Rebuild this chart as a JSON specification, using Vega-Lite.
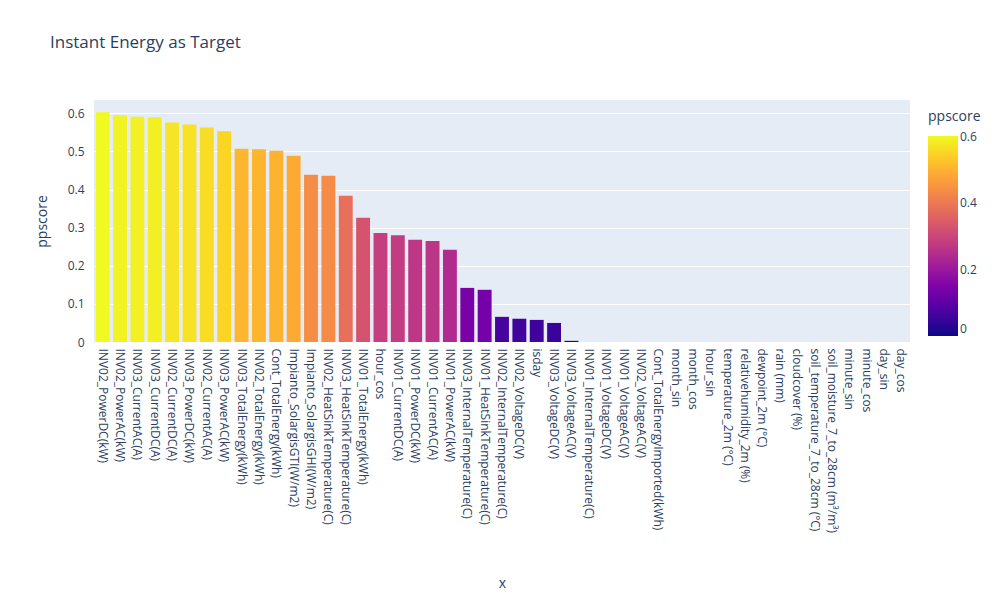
{
"$schema":"https://vega.github.io/schema/vega-lite/v6.json",
"width":816,"height":242,"autosize":{"type":"none"},
"padding":{"left":94,"top":100,"right":98,"bottom":258},
"background":"white",
"title":{"text":"Instant Energy as Target","anchor":"start","frame":"group","dx":-44,"offset":48,"fontSize":17,"font":"Open Sans","fontWeight":"normal","color":"#2a3f5f"},
"config":{"view":{"fill":"#E5ECF6","stroke":null},"font":"Open Sans",
"axis":{"labelFont":"Open Sans","titleFont":"Open Sans","labelColor":"#2a3f5f","titleColor":"#2a3f5f","labelFontSize":12,"titleFontSize":14,"titleFontWeight":"normal","domain":false,"ticks":false,"gridColor":"white","gridWidth":1}},
"data":{"values":[
{"x":"INV02_PowerDC(kW)","ppscore":0.603},
{"x":"INV02_PowerAC(kW)","ppscore":0.595},
{"x":"INV03_CurrentAC(A)","ppscore":0.591},
{"x":"INV03_CurrentDC(A)","ppscore":0.590},
{"x":"INV02_CurrentDC(A)","ppscore":0.576},
{"x":"INV03_PowerDC(kW)","ppscore":0.571},
{"x":"INV02_CurrentAC(A)","ppscore":0.563},
{"x":"INV03_PowerAC(kW)","ppscore":0.553},
{"x":"INV03_TotalEnergy(kWh)","ppscore":0.507},
{"x":"INV02_TotalEnergy(kWh)","ppscore":0.506},
{"x":"Cont_TotalEnergy(kWh)","ppscore":0.502},
{"x":"Impianto_SolargisGTI(W/m2)","ppscore":0.489},
{"x":"Impianto_SolargisGHI(W/m2)","ppscore":0.439},
{"x":"INV02_HeatSinkTemperature(C)","ppscore":0.436},
{"x":"INV03_HeatSinkTemperature(C)","ppscore":0.384},
{"x":"INV01_TotalEnergy(kWh)","ppscore":0.326},
{"x":"hour_cos","ppscore":0.286},
{"x":"INV01_CurrentDC(A)","ppscore":0.280},
{"x":"INV01_PowerDC(kW)","ppscore":0.268},
{"x":"INV01_CurrentAC(A)","ppscore":0.265},
{"x":"INV01_PowerAC(kW)","ppscore":0.242},
{"x":"INV03_InternalTemperature(C)","ppscore":0.142},
{"x":"INV01_HeatSinkTemperature(C)","ppscore":0.137},
{"x":"INV02_InternalTemperature(C)","ppscore":0.066},
{"x":"INV02_VoltageDC(V)","ppscore":0.061},
{"x":"isday","ppscore":0.058},
{"x":"INV03_VoltageDC(V)","ppscore":0.050},
{"x":"INV03_VoltageAC(V)","ppscore":0.003},
{"x":"INV01_InternalTemperature(C)","ppscore":0},
{"x":"INV01_VoltageDC(V)","ppscore":0},
{"x":"INV01_VoltageAC(V)","ppscore":0},
{"x":"INV02_VoltageAC(V)","ppscore":0},
{"x":"Cont_TotalEnergyImported(kWh)","ppscore":0},
{"x":"month_sin","ppscore":0},
{"x":"month_cos","ppscore":0},
{"x":"hour_sin","ppscore":0},
{"x":"temperature_2m (°C)","ppscore":0},
{"x":"relativehumidity_2m (%)","ppscore":0},
{"x":"dewpoint_2m (°C)","ppscore":0},
{"x":"rain (mm)","ppscore":0},
{"x":"cloudcover (%)","ppscore":0},
{"x":"soil_temperature_7_to_28cm (°C)","ppscore":0},
{"x":"soil_moisture_7_to_28cm (m³/m³)","ppscore":0},
{"x":"minute_sin","ppscore":0},
{"x":"minute_cos","ppscore":0},
{"x":"day_sin","ppscore":0},
{"x":"day_cos","ppscore":0}
]},
"mark":{"type":"bar"},
"encoding":{
"x":{"field":"x","type":"nominal","sort":null,"scale":{"paddingInner":0.2,"paddingOuter":0.1},
 "axis":{"labelAngle":90,"labelAlign":"left","labelBaseline":"middle","labelPadding":6,"labelLimit":0,"labelOverlap":false,"grid":false,"titleY":241,"titleBaseline":"middle","title":"x"}},
"y":{"field":"ppscore","type":"quantitative","scale":{"domain":[0,0.635],"nice":false},
 "axis":{"values":[0,0.1,0.2,0.3,0.4,0.5,0.6],"format":".1~f","labelPadding":10,"titlePadding":18}},
"color":{"field":"ppscore","type":"quantitative","scale":{"scheme":"plasma","domain":[0,0.603]},
 "legend":{"orient":"none","legendX":834,"legendY":10,"titlePadding":12,"gradientLength":200,"gradientThickness":30,"values":[0,0.2,0.4,0.6],"format":".1~f","title":"ppscore","titleFontSize":14,"titleFontWeight":"normal","titleColor":"#2a3f5f","labelColor":"#2a3f5f","labelFontSize":12,"titleFont":"Open Sans","labelFont":"Open Sans","gradientStrokeWidth":0}}
}
}
